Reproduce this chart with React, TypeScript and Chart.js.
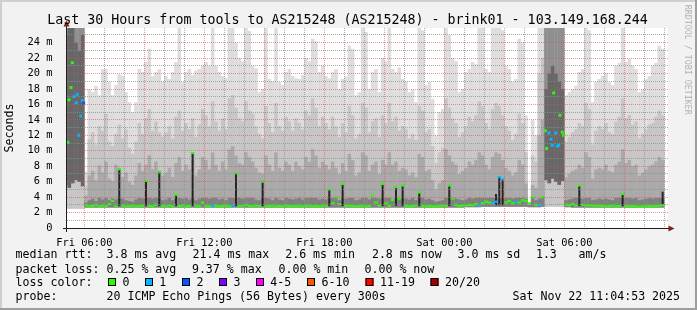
import React, { useEffect, useRef } from 'react';
import { Chart, registerables } from 'chart.js';

Chart.register(...registerables);

const FONT = '"DejaVu Sans Mono", "Liberation Mono", monospace';

// ---- axis / time base ----
const X_MIN_HOUR = 5.135; // Fri 05:08
const X_MAX_HOUR = 35.185; // Sat 11:11
const Y_MAX_MS = 25.9;
const FIRST_BIN_HOUR = 5; // Fri 05:00
const BIN_HOURS = 1 / 6; // 10 minute bins

const xTickHours = [6, 12, 18, 24, 30];
const xTickLabels = ['Fri 06:00', 'Fri 12:00', 'Fri 18:00', 'Sat 00:00', 'Sat 06:00'];

// ---- smoke bands (ms), one value per 10 minute bin, 180 bins ----
const smokeFloor = [
  2.5, 2.5, 2.5, 2.5, 2.5, 2.5,
  2.65, 2.65, 2.65, 2.65, 2.65, 2.65,
  2.65, 2.65, 2.65, 2.65, 2.65, 2.65,
  2.65, 2.65, 2.65, 2.65, 2.65, 2.65,
  2.65, 2.65, 2.65, 2.65, 2.65, 2.65,
  2.65, 2.65, 2.65, 2.65, 2.65, 2.65,
  2.65, 2.65, 2.65, 2.65, 2.65, 2.65,
  2.65, 2.65, 2.65, 2.65, 2.65, 2.65,
  2.65, 2.65, 2.65, 2.65, 2.65, 2.65,
  2.65, 2.65, 2.65, 2.65, 2.65, 2.65,
  2.65, 2.65, 2.65, 2.65, 2.65, 2.65,
  2.65, 2.65, 2.65, 2.65, 2.65, 2.65,
  2.65, 2.65, 2.65, 2.65, 2.65, 2.65,
  2.65, 2.65, 2.65, 2.65, 2.65, 2.65,
  2.65, 2.65, 2.65, 2.65, 2.65, 2.65,
  2.65, 2.65, 2.65, 2.65, 2.65, 2.65,
  2.65, 2.65, 2.65, 2.65, 2.65, 2.65,
  2.65, 2.65, 2.65, 2.65, 2.65, 2.65,
  2.65, 2.65, 2.65, 2.65, 2.65, 2.65,
  2.65, 2.65, 2.65, 2.65, 2.65, 2.65,
  2.7, 2.7, 2.7, 2.7, 2.7, 2.75,
  2.75, 2.75, 2.75, 2.75, 2.75, 2.75,
  2.75, 2.75, 2.75, 2.75, 2.75, 2.75,
  2.75, 2.7, 2.7, 2.7, 2.7, 2.75,
  2.75, 2.75, 2.75, 2.75, 2.75, 2.75,
  2.7, 2.7, 2.65, 2.65, 2.65, 2.65,
  2.65, 2.65, 2.65, 2.65, 2.65, 2.65,
  2.65, 2.65, 2.65, 2.65, 2.65, 2.65,
  2.65, 2.65, 2.65, 2.65, 2.65, 2.65,
  2.65, 2.65, 2.65, 2.65, 2.65, 2.65,
];

const coreFloor = [
  5.6, 5.2, 5.8, 6.2, 6.0, 5.4,
  2.65, 2.65, 2.65, 2.65, 2.65, 2.65,
  2.65, 2.65, 2.65, 2.65, 2.65, 2.65,
  2.65, 2.65, 2.65, 2.65, 2.65, 2.65,
  2.65, 2.65, 2.65, 2.65, 2.65, 2.65,
  2.65, 2.65, 2.65, 2.65, 2.65, 2.65,
  2.65, 2.65, 2.65, 2.65, 2.65, 2.65,
  2.65, 2.65, 2.65, 2.65, 2.65, 2.65,
  2.65, 2.65, 2.65, 2.65, 2.65, 2.65,
  2.65, 2.65, 2.65, 2.65, 2.65, 2.65,
  2.65, 2.65, 2.65, 2.65, 2.65, 2.65,
  2.65, 2.65, 2.65, 2.65, 2.65, 2.65,
  2.65, 2.65, 2.65, 2.65, 2.65, 2.65,
  2.65, 2.65, 2.65, 2.65, 2.65, 2.65,
  2.65, 2.65, 2.65, 2.65, 2.65, 2.65,
  2.65, 2.65, 2.65, 2.65, 2.65, 2.65,
  2.65, 2.65, 2.65, 2.65, 2.65, 2.65,
  2.65, 2.65, 2.65, 2.65, 2.65, 2.65,
  2.65, 2.65, 2.65, 2.65, 2.65, 2.65,
  2.65, 2.65, 2.65, 2.65, 2.65, 2.65,
  2.7, 2.7, 2.7, 2.7, 2.7, 2.75,
  2.75, 2.75, 2.75, 2.75, 2.75, 2.75,
  2.75, 2.75, 2.75, 2.75, 2.75, 2.75,
  2.75, 2.7, 2.7, 2.7, 2.7, 2.75,
  6.2, 5.8, 6.4, 6.0, 5.6, 6.1,
  2.7, 2.7, 2.65, 2.65, 2.65, 2.65,
  2.65, 2.65, 2.65, 2.65, 2.65, 2.65,
  2.65, 2.65, 2.65, 2.65, 2.65, 2.65,
  2.65, 2.65, 2.65, 2.65, 2.65, 2.65,
  2.65, 2.65, 2.65, 2.65, 2.65, 2.65,
];

// outermost (lightest) band top
const smokeTop1 = [
  26, 26, 26, 26, 26, 26,
  7.3, 18, 17.6, 18.4, 17.2, 20.6,
  20.6, 18.9, 17.2, 18.5, 19.9, 19.7,
  17.6, 16.3, 15, 16.3, 20.6, 20.2,
  21.5, 23.2, 19.7, 20.2, 20.6, 18.9,
  19.7, 19.3, 20.2, 21.5, 26, 18.9,
  20.2, 20.6, 19.8, 20.4, 20.6, 21,
  21.5, 21, 26, 21, 20.2, 19.7,
  19.4, 26, 26, 24, 22, 21.6,
  26, 25.5, 21, 20.7, 17.6, 18,
  26, 19.3, 19, 26, 18.9, 18.5,
  20.2, 20.6, 19.7, 19.4, 19.3, 19.8,
  22, 21.6, 24.5, 24.2, 20.2, 21,
  19.7, 19.4, 20.2, 20.6, 18, 19.3,
  19.6, 23.6, 23.2, 17.2, 17.6, 26,
  25.4, 18, 20.2, 20.6, 17.6, 22,
  21.6, 26, 20.6, 20.2, 20.8, 19.3,
  19, 17.6, 17.9, 16.3, 26, 25.6,
  18.5, 18.9, 16.7, 12, 15, 15.4,
  26, 25, 22, 21.6, 17.6, 18,
  20.2, 20.6, 21.5, 21.2, 26, 26,
  20.6, 20.2, 26, 26, 26, 25.6,
  21, 20.6, 18.9, 19.3, 24.5, 24,
  14.6, 3.2, 14, 12, 26, 26,
  26, 26, 26, 26, 26, 26,
  17.2, 17.6, 18, 18.4, 20.2, 20.6,
  26, 25.6, 16.3, 18.9, 19.3, 19.7,
  20.1, 18.9, 18.5, 21, 21.4, 26,
  21.5, 21.9, 21, 20.6, 17.6, 18,
  19.3, 19.7, 21, 21.4, 23.6, 23.2,
];

const smokeTop2 = [
  26, 26, 26, 26, 26, 26,
  5.5, 11.5, 12.4, 10.8, 13.2, 12.6,
  14.8, 11.2, 10.6, 12.2, 13.4, 11.6,
  12.8, 10.4, 9.6, 11.2, 13.6, 12.2,
  14.2, 15.4, 12.6, 13.8, 12.4, 11.8,
  12.4, 13.2, 11.6, 14.4, 15.2, 12.6,
  13.6, 12.8, 14.2, 11.8, 13.4, 15.4,
  14.6, 13.2, 16.4, 13.8, 12.6, 14.2,
  12.8, 16.8, 17.2, 15.6, 14.2, 13.8,
  16.4, 15.2, 14.8, 13.2, 12.2, 11.6,
  15.8, 13.6, 12.4, 16.2, 13.2, 12.6,
  14.4, 13.8, 12.6, 14.2, 13.6, 12.8,
  15.2, 14.6, 16.8, 15.6, 13.2, 14.4,
  13.6, 12.8, 14.4, 13.2, 11.8, 13.6,
  12.4, 15.8, 14.6, 11.6, 12.2, 16.2,
  15.6, 12.4, 13.8, 14.2, 11.8, 14.6,
  13.6, 16.2, 13.8, 14.4, 12.6, 13.2,
  12.8, 11.6, 12.2, 11.4, 15.8, 15.2,
  12.4, 12.8, 10.6, 8.4, 9.8, 10.4,
  16.8, 15.6, 14.2, 13.6, 11.8, 12.4,
  13.2, 14.4, 13.8, 14.6, 16.4, 15.8,
  13.6, 12.8, 15.4, 16.2, 15.8, 14.6,
  13.2, 12.6, 11.4, 12.2, 14.8, 13.6,
  9.8, 3.1, 9.4, 8.6, 20, 22,
  26, 26, 26, 26, 26, 26,
  11.2, 11.8, 12.4, 12.8, 13.6, 13.2,
  16.2, 15.4, 10.8, 12.6, 13.2, 12.8,
  13.6, 12.4, 12.2, 13.8, 14.4, 16.8,
  14.2, 14.6, 13.4, 13.8, 11.6, 12.2,
  12.8, 13.4, 13.6, 14.4, 15.2, 14.6,
];

const smokeTop3 = [
  26, 26, 26, 26, 26, 26,
  4.2, 6.8, 7.4, 6.2, 8.1, 7.2,
  8.6, 6.4, 6.1, 8.2, 7.8, 6.6,
  7.2, 6.0, 5.6, 6.8, 8.4, 7.4,
  8.2, 9.4, 7.6, 8.6, 7.4, 6.8,
  7.2, 7.8, 6.6, 8.4, 9.2, 7.4,
  8.2, 7.6, 9.6, 6.8, 7.6, 9.2,
  8.8, 7.6, 9.8, 8.2, 7.4, 8.6,
  7.6, 10.2, 10.6, 9.4, 8.4, 8.2,
  9.8, 9.2, 8.6, 7.8, 7.2, 7.0,
  9.4, 8.2, 7.4, 9.8, 7.8, 7.4,
  8.6, 8.2, 7.4, 8.6, 8.0, 7.6,
  9.2, 8.6, 10.2, 9.4, 7.8, 8.6,
  8.2, 7.6, 8.6, 7.8, 7.0, 8.4,
  7.4, 9.6, 8.8, 6.8, 7.2, 9.8,
  9.4, 7.4, 8.2, 8.6, 7.0, 8.8,
  8.2, 9.8, 8.2, 8.6, 7.4, 7.8,
  7.6, 6.8, 7.2, 6.6, 9.6, 9.2,
  7.4, 7.6, 6.2, 5.0, 5.8, 6.2,
  10.2, 9.4, 8.6, 8.2, 7.0, 7.4,
  7.8, 8.6, 8.2, 8.8, 9.8, 9.4,
  8.2, 7.6, 9.2, 9.8, 9.6, 8.8,
  7.8, 7.4, 6.8, 7.2, 8.8, 8.2,
  5.8, 3.0, 5.6, 5.2, 12, 14,
  26, 26, 26, 26, 26, 26,
  6.6, 7.0, 7.4, 7.6, 8.2, 7.8,
  9.8, 9.2, 6.4, 7.6, 7.8, 7.6,
  8.2, 7.4, 7.2, 8.2, 8.6, 10.2,
  8.4, 8.8, 8.0, 8.2, 6.8, 7.2,
  7.6, 8.0, 8.2, 8.6, 9.2, 8.8,
];

// innermost (darkest) band top
const smokeTop4 = [
  25, 26, 26, 24, 23, 25,
  3.3, 3.6, 3.8, 3.5, 3.9, 3.7,
  4.0, 3.6, 3.8, 3.7, 7.6, 3.8,
  3.6, 3.5, 3.4, 3.7, 4.0, 3.8,
  6.1, 4.2, 3.8, 3.9, 7.3, 3.6,
  3.7, 3.9, 3.6, 4.3, 4.1, 3.8,
  3.9, 3.7, 9.7, 3.6, 3.8, 4.0,
  4.1, 3.8, 4.2, 3.9, 3.7, 3.8,
  3.6, 4.0, 4.2, 7.1, 3.9, 3.8,
  4.1, 4.0, 3.9, 3.7, 3.6, 6.0,
  4.0, 3.8, 3.6, 4.1, 3.7, 3.6,
  3.9, 3.8, 3.7, 3.8, 3.9, 3.7,
  4.0, 3.9, 4.2, 4.1, 3.7, 3.8,
  3.7, 5.0, 3.9, 4.0, 3.6, 5.7,
  3.8, 4.0, 3.9, 3.6, 3.7, 4.2,
  4.1, 3.7, 4.2, 3.9, 3.8, 5.7,
  3.9, 4.1, 3.6, 5.3, 3.8, 5.5,
  3.8, 3.7, 3.9, 3.6, 4.6, 4.2,
  3.7, 3.8, 3.6, 3.4, 3.5, 3.6,
  4.1, 5.5, 3.9, 3.8, 3.7, 3.6,
  3.7, 3.9, 3.8, 3.9, 4.2, 4.1,
  4.0, 3.9, 4.2, 4.4, 6.6, 6.3,
  4.0, 3.9, 3.8, 4.0, 4.2, 4.1,
  3.8, 3.0, 4.0, 3.6, 3.8, 4.0,
  18, 20, 21, 20, 19, 18,
  3.6, 3.7, 3.8, 3.9, 5.5, 3.8,
  4.1, 4.0, 3.6, 3.7, 3.8, 3.7,
  3.8, 3.7, 3.6, 3.9, 4.0, 4.4,
  3.9, 4.0, 3.8, 3.9, 3.6, 3.7,
  3.8, 3.9, 3.8, 3.9, 4.1, 4.7,
];

// median rtt (ms) per bin; null where the burst points below are used
const medianMs = [
  null, null, null, null, null, null,
  2.95, 2.8, 2.85, 3.0, 2.8, 2.9,
  2.85, 3.1, 3.5, 2.8, 7.6, 2.9,
  2.8, 2.85, 2.9, 2.8, 2.85, 2.9,
  6.1, 2.85, 2.8, 3.0, 7.3, 2.85,
  2.8, 2.9, 2.8, 4.3, 2.85, 2.9,
  2.8, 2.85, 9.7, 2.9, 2.8, 3.3,
  2.85, 2.8, 2.85, 2.9, 2.8, 2.85,
  2.9, 2.8, 2.85, 7.1, 2.8, 2.9,
  3.0, 2.85, 2.8, 2.9, 2.85, 6.0,
  2.8, 2.85, 2.9, 2.8, 2.85, 2.8,
  2.9, 2.85, 2.8, 2.85, 2.9, 2.8,
  2.85, 2.9, 2.8, 2.85, 2.8, 2.9,
  2.85, 5.0, 3.2, 4.0, 3.1, 5.7,
  2.85, 2.9, 2.85, 2.8, 2.85, 2.9,
  2.8, 2.85, 4.2, 3.3, 2.9, 5.7,
  3.2, 2.85, 3.6, 5.3, 3.8, 5.5,
  2.85, 2.8, 2.85, 2.9, 4.6, 2.85,
  2.8, 2.85, 2.8, 2.8, 2.85, 2.9,
  2.85, 5.5, 3.8, 3.0, 2.85, 2.9,
  2.9, 3.0, 2.95, 3.1, 2.9, 3.2,
  3.4, 3.3, 3.2, 3.4, 6.6, 6.3,
  3.3, 3.5, 3.2, 3.4, 3.3, 3.6,
  3.5, 3.2, 4.0, 3.0, 3.0, 4.0,
  null, null, null, null, null, null,
  3.0, 2.95, 3.1, 2.9, 5.5, 3.0,
  2.9, 2.95, 2.9, 2.85, 2.9, 2.85,
  2.8, 2.85, 2.9, 2.8, 2.85, 4.4,
  2.85, 2.8, 2.85, 2.8, 2.75, 2.8,
  2.8, 2.85, 2.8, 2.85, 2.9, 2.95,
];

// lost packets class per bin (index into lossColors)
const medianLoss = [
  0, 0, 0, 0, 0, 0,
  0, 0, 0, 0, 0, 0,
  0, 0, 0, 0, 0, 0,
  0, 0, 0, 0, 0, 0,
  0, 0, 0, 0, 0, 0,
  0, 0, 0, 0, 0, 0,
  0, 0, 0, 0, 0, 0,
  0, 0, 1, 0, 0, 0,
  0, 0, 1, 0, 0, 0,
  0, 0, 0, 0, 0, 0,
  0, 0, 0, 0, 0, 0,
  0, 0, 0, 0, 0, 0,
  0, 0, 0, 0, 0, 0,
  0, 0, 0, 0, 0, 0,
  0, 0, 0, 0, 0, 0,
  0, 0, 0, 0, 0, 0,
  0, 0, 0, 0, 0, 0,
  0, 0, 0, 0, 0, 0,
  0, 0, 0, 0, 0, 0,
  0, 0, 0, 0, 0, 0,
  0, 0, 0, 0, 1, 0,
  0, 0, 1, 1, 1, 1,
  0, 0, 0, 1, 0, 0,
  0, 0, 0, 0, 1, 0,
  0, 0, 0, 0, 0, 0,
  0, 0, 0, 0, 0, 0,
  0, 0, 0, 0, 0, 0,
  0, 0, 0, 0, 0, 0,
  0, 0, 0, 0, 0, 0,
  0, 0, 0, 0, 0, 0,
];

// individual 5-minute medians inside the two high-latency bursts
const burstHours = [
  5.17, 5.235, 5.335, 5.4, 5.485, 5.6, 5.65, 5.72, 5.82, 5.9, 5.97,
  29.05, 29.12, 29.235, 29.335, 29.4, 29.47, 29.57, 29.65, 29.72, 29.785, 29.9, 29.97,
];
const burstMs = [
  11.1, 16.6, 18.2, 21.4, 17.0, 16.2, 17.3, 12.0, 14.5, 16.5, 16.2,
  12.6, 10.3, 12.3, 11.5, 10.7, 17.5, 12.3, 10.6, 10.7, 14.6, 12.4, 12.0,
];
const burstLoss = [
  0, 0, 0, 0, 1, 1, 1, 1, 1, 1, 2,
  0, 0, 1, 1, 1, 0, 1, 1, 1, 0, 0, 0,
];

// ---- legend ----
const TITLE = 'Last 30 Hours from tools to AS215248 (AS215248) - brink01 - 103.149.168.244';
const lossLabels = ['0', '1', '2', '3', '4-5', '6-10', '11-19', '20/20'];
const lossColors = ['#26ff00', '#00b8ff', '#0059ff', '#7e00ff', '#ff00ff', '#ff5500', '#ff0000', '#a10000'];
const rttStats = ['3.8 ms avg', '21.4 ms max', '2.6 ms min', '2.8 ms now', '3.0 ms sd', '1.3', 'am/s'];
const lossStats = ['0.25 % avg', '9.37 % max', '0.00 % min', '0.00 % now'];
const PROBE_TEXT = '20 ICMP Echo Pings (56 Bytes) every 300s';
const STAMP_TEXT = 'Sat Nov 22 11:04:53 2025';
const WATERMARK = 'RRDTOOL / TOBI OETIKER';

// ---- layout (pixel) constants for the text block ----
const rttX = [106.5, 192.5, 285.2, 371.9, 457.5, 535.9, 578.5];
const lossX = [106.5, 191.9, 278.5, 364.5];
const boxX = [108, 145, 182, 219, 256, 307, 365.5, 430.5];
const boxLabelX = [122.5, 159.3, 196.5, 233.5, 270.2, 321.5, 380, 445];

const SPIKE_LEVEL = 4.25;

const binHour = (i: number) => FIRST_BIN_HOUR + (i + 0.5) * BIN_HOURS;
const isBurst = (i: number) => coreFloor[i] > 4;

function band(lo: number[], hi: number[]) {
  return hi.map((h, i) => ({ x: binHour(i), y: h > lo[i] ? [lo[i], h] : null }));
}

const GRID = 'rgba(143,143,143,0.75)';
const MGRID = 'rgba(222,80,80,0.6)';

const rrdPlugin = {
  id: 'rrdLook',
  beforeDraw(chart: any) {
    const { ctx, chartArea: a, width, height } = chart;
    ctx.save();
    ctx.fillStyle = '#f2f2f2';
    ctx.fillRect(0, 0, width, height);
    ctx.fillStyle = '#cfcfcf';
    ctx.fillRect(0, 0, width, 2);
    ctx.fillRect(0, 0, 2, height);
    ctx.fillStyle = '#9e9e9e';
    ctx.fillRect(0, height - 2, width, 2);
    ctx.fillRect(width - 2, 0, 2, height);
    ctx.fillStyle = '#ffffff';
    ctx.fillRect(a.left, a.top, a.right - a.left, a.bottom - a.top);
    ctx.restore();
  },
  afterDatasetsDraw(chart: any) {
    const { ctx, chartArea: a } = chart;
    const xs = chart.scales.x;
    const ys = chart.scales.y;
    ctx.save();
    ctx.beginPath();
    ctx.rect(a.left, a.top, a.right - a.left, a.bottom - a.top);
    ctx.clip();
    ctx.lineWidth = 1;
    ctx.setLineDash([1, 1]);
    for (let m = 1; m < Y_MAX_MS; m += 1) {
      const y = Math.floor(ys.getPixelForValue(m)) + 0.5;
      ctx.strokeStyle = m % 2 === 0 ? MGRID : GRID;
      ctx.beginPath();
      ctx.moveTo(a.left, y);
      ctx.lineTo(a.right, y);
      ctx.stroke();
    }
    for (let h = Math.ceil(X_MIN_HOUR); h < X_MAX_HOUR; h += 1) {
      const x = Math.floor(xs.getPixelForValue(h)) + 0.5;
      ctx.strokeStyle = h % 3 === 0 ? MGRID : GRID;
      ctx.beginPath();
      ctx.moveTo(x, a.top);
      ctx.lineTo(x, a.bottom);
      ctx.stroke();
    }
    ctx.restore();

    // axes
    ctx.save();
    ctx.setLineDash([]);
    ctx.strokeStyle = '#1f1f1f';
    ctx.lineWidth = 1;
    ctx.beginPath();
    ctx.moveTo(a.left - 4, a.bottom + 0.5);
    ctx.lineTo(a.right + 1, a.bottom + 0.5);
    ctx.stroke();
    ctx.beginPath();
    ctx.moveTo(a.left - 0.5, a.bottom + 4);
    ctx.lineTo(a.left - 0.5, a.top - 2);
    ctx.stroke();
    ctx.fillStyle = '#7f1f1f';
    ctx.beginPath();
    ctx.moveTo(a.left - 0.5, a.top - 7.5);
    ctx.lineTo(a.left - 3.5, a.top - 1.5);
    ctx.lineTo(a.left + 2.5, a.top - 1.5);
    ctx.closePath();
    ctx.fill();
    ctx.beginPath();
    ctx.moveTo(a.right + 6.5, a.bottom + 0.5);
    ctx.lineTo(a.right + 0.5, a.bottom - 2.5);
    ctx.lineTo(a.right + 0.5, a.bottom + 3.5);
    ctx.closePath();
    ctx.fill();
    ctx.restore();
  },
  afterDraw(chart: any) {
    const { ctx } = chart;
    ctx.save();
    ctx.fillStyle = '#000000';
    ctx.textBaseline = 'alphabetic';
    ctx.textAlign = 'center';
    ctx.font = `13.3px ${FONT}`;
    ctx.fillText(TITLE, 347.5, 24);

    ctx.textAlign = 'left';
    ctx.font = `11.6px ${FONT}`;
    const rows = [258.3, 272.5, 285.8, 300.3];
    ctx.fillText('median rtt:', 15.6, rows[0]);
    rttStats.forEach((t, i) => ctx.fillText(t, rttX[i], rows[0]));
    ctx.fillText('packet loss:', 15.6, rows[1]);
    lossStats.forEach((t, i) => ctx.fillText(t, lossX[i], rows[1]));
    ctx.fillText('loss color:', 15.6, rows[2]);
    lossLabels.forEach((t, i) => {
      ctx.fillStyle = lossColors[i];
      ctx.fillRect(boxX[i], 278, 8, 8);
      ctx.strokeStyle = '#000000';
      ctx.lineWidth = 1;
      ctx.strokeRect(boxX[i] + 0.5, 278.5, 7, 7);
      ctx.fillStyle = '#000000';
      ctx.fillText(t, boxLabelX[i], rows[2]);
    });
    ctx.fillText('probe:', 15.6, rows[3]);
    ctx.fillText(PROBE_TEXT, 106.5, rows[3]);
    ctx.fillText(STAMP_TEXT, 512.5, rows[3]);

    // vertical watermark
    ctx.font = `8.3px ${FONT}`;
    ctx.fillStyle = 'rgba(0,0,0,0.28)';
    ctx.translate(685, 4.8);
    ctx.rotate(Math.PI / 2);
    ctx.fillText(WATERMARK, 0, 0);
    ctx.restore();
  },
};

export default function App() {
  const ref = useRef<HTMLCanvasElement | null>(null);

  useEffect(() => {
    document.body.style.margin = '0';
    const canvas = ref.current;
    if (!canvas) return;

    const bandStyle = {
      type: 'bar' as const,
      grouped: false,
      barPercentage: 1.06,
      categoryPercentage: 1,
      borderWidth: 0,
    };

    // dark core: wide band near the median, narrow dark bar where the median spikes
    const coreData = smokeTop4.map((v, i) => {
      const top = isBurst(i) ? v : Math.min(v, SPIKE_LEVEL - 0.35);
      return { x: binHour(i), y: top > coreFloor[i] ? [coreFloor[i], top] : null };
    });
    const spikeData = smokeTop4.map((v, i) => ({
      x: binHour(i),
      y: !isBurst(i) && v > SPIKE_LEVEL ? [smokeFloor[i] + 0.2, v] : null,
    }));
    const coreColors = smokeTop4.map((_, i) => (isBurst(i) ? '#676767' : '#808080'));
    const midColors = smokeTop3.map((_, i) => (isBurst(i) ? '#8f8f8f' : '#a9a9a9'));

    const chart = new Chart(canvas, {
      type: 'bar',
      data: {
        datasets: [
          {
            type: 'line',
            label: 'burst median',
            data: burstHours.map((h, i) => ({ x: h, y: burstMs[i] })),
            showLine: false,
            pointStyle: 'rect',
            pointRadius: 2.1,
            pointBorderWidth: 0,
            pointBackgroundColor: burstLoss.map((l) => lossColors[l]),
            order: 0,
          } as any,
          {
            ...bandStyle,
            label: 'median',
            data: medianMs.map((m, i) => ({ x: binHour(i), y: m == null ? null : [m - 0.14, m + 0.14] })),
            backgroundColor: medianLoss.map((l) => lossColors[l]),
            order: 1,
          } as any,
          {
            ...bandStyle,
            label: 'spike core',
            data: spikeData,
            barPercentage: 0.6,
            backgroundColor: '#242424',
            order: 2,
          } as any,
          { ...bandStyle, label: 'smoke 4', data: coreData, backgroundColor: coreColors, order: 3 } as any,
          { ...bandStyle, label: 'smoke 3', data: band(coreFloor, smokeTop3), backgroundColor: midColors, order: 4 } as any,
          { ...bandStyle, label: 'smoke 2', data: band(smokeFloor, smokeTop2), backgroundColor: '#c6c6c6', order: 5 } as any,
          { ...bandStyle, label: 'smoke 1', data: band(smokeFloor, smokeTop1), backgroundColor: '#dddddd', order: 6 } as any,
        ],
      },
      options: {
        animation: false,
        responsive: false,
        devicePixelRatio: 1,
        events: [],
        layout: { padding: { left: 0, top: 28, right: 29, bottom: 0 } },
        plugins: {
          legend: { display: false },
          tooltip: { enabled: false },
          title: { display: false },
        },
        scales: {
          x: {
            type: 'linear',
            min: X_MIN_HOUR,
            max: X_MAX_HOUR,
            offset: false,
            grid: { display: false },
            border: { display: false },
            ticks: {
              stepSize: 6,
              includeBounds: false,
              autoSkip: false,
              maxRotation: 0,
              padding: 1,
              color: '#000000',
              font: { family: FONT, size: 10.4 },
              callback: (v: any) => {
                const k = xTickHours.indexOf(Number(v));
                return k >= 0 ? xTickLabels[k] : '';
              },
            },
            afterFit: (s: any) => {
              s.height = 82;
            },
          },
          y: {
            type: 'linear',
            min: 0,
            max: Y_MAX_MS,
            grid: { display: false },
            border: { display: false },
            ticks: {
              stepSize: 2,
              includeBounds: false,
              padding: 6.5,
              color: '#000000',
              font: { family: FONT, size: 10.4 },
              callback: (v: any) => (Number(v) === 0 ? '0' : `${v} m`),
            },
            title: {
              display: true,
              text: 'Seconds',
              color: '#000000',
              font: { family: FONT, size: 11.6 },
              padding: { top: 3.3, bottom: 0 },
            },
            afterFit: (s: any) => {
              s.width = 67;
            },
          },
        },
      } as any,
      plugins: [rrdPlugin],
    });

    return () => chart.destroy();
  }, []);

  return <canvas ref={ref} width={697} height={310} style={{ display: 'block' }} />;
}
